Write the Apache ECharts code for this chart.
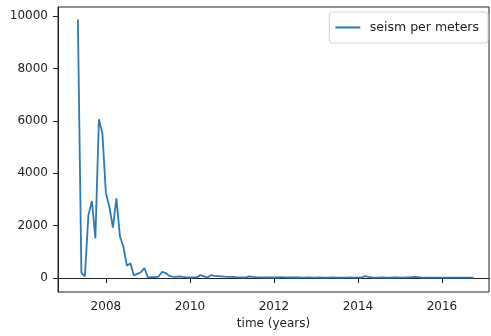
<!DOCTYPE html>
<html>
<head>
<meta charset="utf-8">
<style>
  html, body { margin: 0; padding: 0; background: #fff; }
  #chart { width: 491px; height: 336px; }
</style>
<script src="https://cdn.jsdelivr.net/npm/echarts@6/dist/echarts.min.js"></script>
</head>
<body>
<div id="chart"></div>
<script>
// Monthly seismicity per metre, starting April 2007 (one value per month-end)
const startYear = 2007;
const startMonth = 4;
const seismPerMeters = [
  9870, 200, 60, 2400, 2940, 1515, 6060, 5520, 3230,          // 2007 Apr-Dec
  2720, 1920, 3040, 1600, 1190, 470, 560, 100, 160, 220, 380, 20, // 2008
  30, 30, 50, 230, 200, 90, 50, 45, 60, 40, 25, 20,           // 2009
  20, 30, 110, 60, 20, 110, 80, 70, 60, 50, 45, 40,           // 2010
  30, 25, 20, 25, 60, 40, 30, 25, 20, 20, 25, 20,             // 2011
  20, 30, 25, 20, 20, 25, 20, 15, 15, 20, 15, 15,             // 2012
  20, 15, 15, 15, 20, 15, 15, 15, 15, 20, 15, 15,             // 2013
  20, 70, 40, 20, 15, 15, 20, 15, 15, 20, 20, 15,             // 2014
  15, 20, 25, 40, 30, 20, 15, 15, 15, 15, 15, 15,             // 2015
  15, 15, 15, 15, 15, 15, 15, 15, 15                          // 2016 Jan-Sep
];
const yearTicks = [2008, 2010, 2012, 2014, 2016];
const valueTicks = [0, 2000, 4000, 6000, 8000, 10000];
const seriesName = 'seism per meters';
const xTitle = 'time (years)';

// Convert each month-end into a decimal year for the value axis
const points = seismPerMeters.map((v, i) => {
  const m = startMonth + i;
  return [startYear + m / 12, v];
});

const font = 'DejaVu Sans';
const chart = echarts.init(document.getElementById('chart'), null, { renderer: 'canvas' });
chart.setOption({
  animation: false,
  backgroundColor: '#fff',
  grid: {
    left: 58, right: 2, top: 7, bottom: 44,
    show: true, borderColor: '#222', borderWidth: 1, containLabel: false
  },
  legend: {
    show: true,
    right: 3, top: 12,
    orient: 'horizontal',
    data: [{ name: seriesName, icon: 'path://M0,0 L1,0 L1,0.08 L0,0.08 Z' }],
    itemWidth: 28, itemHeight: 2,
    itemGap: 10,
    padding: [9, 9, 9, 6],
    borderColor: '#d4d4d4', borderWidth: 1, borderRadius: 3,
    textStyle: { fontFamily: font, fontSize: 12.5, color: '#222', padding: [0, 0, 0, 3] }
  },
  xAxis: {
    type: 'value',
    min: 2006.86, max: 2017.12,
    name: xTitle,
    nameLocation: 'middle',
    nameGap: 25,
    nameTextStyle: { fontFamily: font, fontSize: 12, color: '#222' },
    splitLine: { show: false },
    axisLine: { show: true, lineStyle: { color: '#222', width: 1 } },
    axisTick: { show: true, customValues: yearTicks, length: 5, lineStyle: { color: '#222' } },
    axisLabel: {
      customValues: yearTicks, margin: 9,
      fontFamily: font, fontSize: 12, color: '#222',
      formatter: v => String(v)
    }
  },
  yAxis: {
    type: 'value',
    min: -534, max: 10344,
    splitLine: { show: false },
    axisLine: { show: true, lineStyle: { color: '#222', width: 1 } },
    axisTick: { show: true, customValues: valueTicks, length: 5, lineStyle: { color: '#222' } },
    axisLabel: {
      customValues: valueTicks, margin: 10,
      fontFamily: font, fontSize: 12, color: '#222',
      formatter: v => String(v)
    }
  },
  series: [{
    name: seriesName,
    type: 'line',
    data: points,
    showSymbol: false,
    symbol: 'none',
    lineStyle: { color: '#2b7bba', width: 1.8 },
    itemStyle: { color: '#2b7bba' }
  }]
});
</script>
</body>
</html>
